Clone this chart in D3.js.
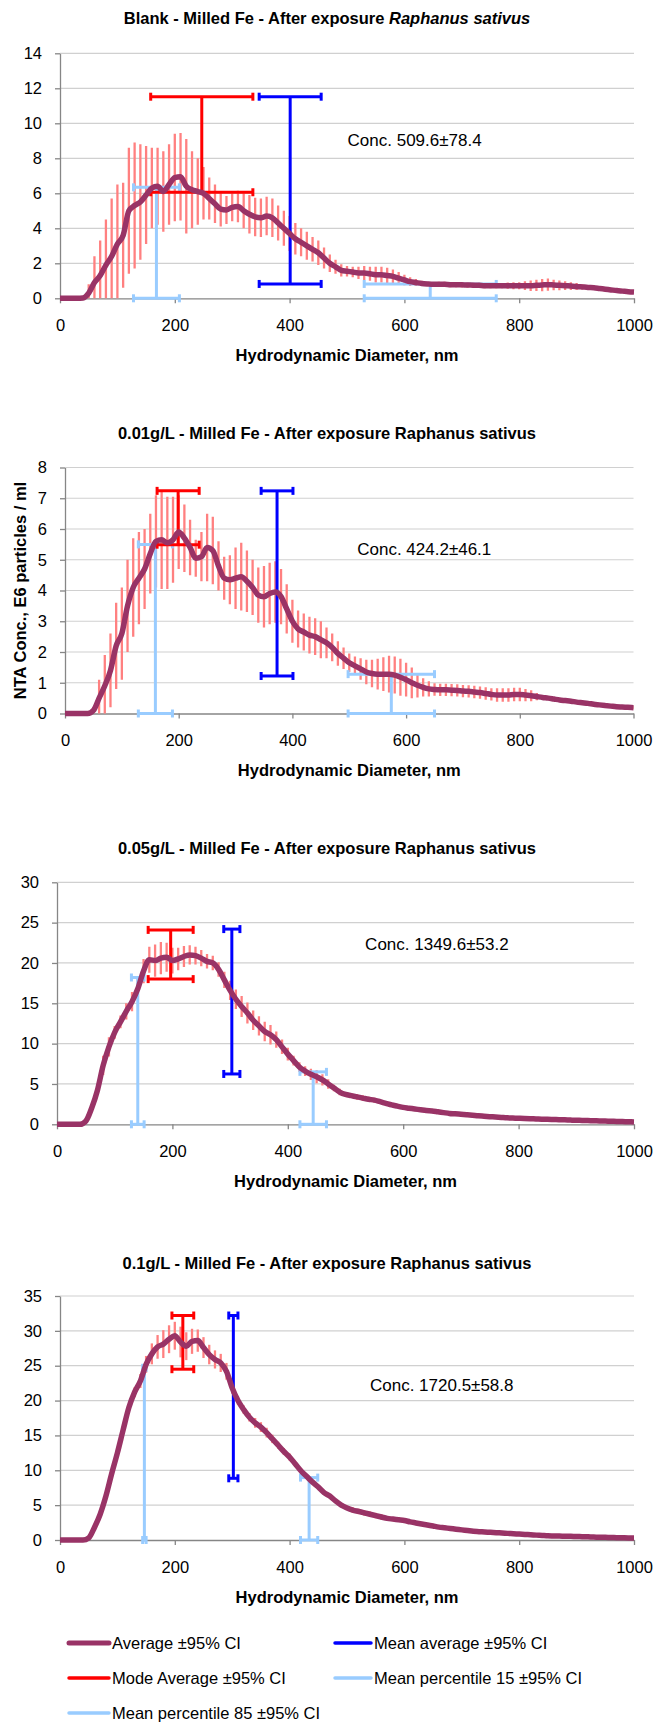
<!DOCTYPE html>
<html>
<head>
<meta charset="utf-8">
<script src="https://cdn.jsdelivr.net/npm/d3@7"></script>
<style>
  body { margin: 0; background: #fff; }
  text { font-family: "Liberation Sans", Arial, sans-serif; fill: #000; }
</style>
</head>
<body>
<svg id="chart" width="654" height="1722"></svg>
<script>
// size bins, nm (one reading every 10 nm)
const sizeNm = d3.range(0, 1001, 10);

const panelTitles = [
  "Blank - Milled Fe - After exposure ",
  "0.01g/L - Milled Fe - After exposure Raphanus sativus",
  "0.05g/L - Milled Fe - After exposure Raphanus sativus",
  "0.1g/L - Milled Fe - After exposure Raphanus sativus"
];
const xTicks = [0, 200, 400, 600, 800, 1000];
const yTicks = [
  [0, 2, 4, 6, 8, 10, 12, 14],
  [0, 1, 2, 3, 4, 5, 6, 7, 8],
  [0, 5, 10, 15, 20, 25, 30],
  [0, 5, 10, 15, 20, 25, 30, 35]
];
const concLabels = ["Conc. 509.6\u00b178.4", "Conc. 424.2\u00b146.1", "Conc. 1349.6\u00b153.2", "Conc. 1720.5\u00b158.8"];

// Average concentration (E6 particles/ml)
const avgBlank = [
  0, 0, 0, 0, 0.02, 0.3, 0.9, 1.3, 1.9, 2.4,
  3.1, 3.6, 5.0, 5.3, 5.5, 5.9, 6.3, 6.4, 6.1, 6.5,
  6.9, 6.95, 6.4, 6.2, 6.1, 6.0, 5.7, 5.4, 5.1, 5.05,
  5.2, 5.25, 5.0, 4.8, 4.65, 4.6, 4.7, 4.6, 4.3, 4.0,
  3.7, 3.4, 3.2, 3.0, 2.8, 2.6, 2.3, 2.0, 1.8, 1.6,
  1.55, 1.5, 1.45, 1.45, 1.4, 1.35, 1.35, 1.3, 1.25, 1.15,
  1.05, 0.95, 0.9, 0.85, 0.82, 0.8, 0.8, 0.8, 0.78, 0.78,
  0.77, 0.76, 0.75, 0.74, 0.72, 0.72, 0.72, 0.72, 0.72, 0.72,
  0.72, 0.72, 0.72, 0.74, 0.76, 0.78, 0.76, 0.74, 0.72, 0.7,
  0.68, 0.65, 0.62, 0.6, 0.56, 0.52, 0.48, 0.44, 0.41, 0.38,
  0.36];
const ciBlank = [
  0, 0, 0, 0, 0, 0.5, 1.5, 2.0, 2.6, 3.3,
  3.4, 3.0, 3.6, 3.6, 3.3, 2.8, 2.3, 2.2, 2.3, 2.3,
  2.5, 2.5, 2.7, 2.2, 1.9, 1.5, 1.2, 1.1, 1.0, 0.8,
  0.8, 0.9, 1.0, 1.1, 1.1, 1.1, 1.1, 1.1, 1.0, 1.0,
  1.0, 0.9, 0.8, 0.8, 0.7, 0.7, 0.6, 0.5, 0.4, 0.35,
  0.3, 0.3, 0.35, 0.4, 0.4, 0.45, 0.45, 0.45, 0.4, 0.35,
  0.3, 0.25, 0.2, 0.15, 0.12, 0.1, 0.15, 0.15, 0.15, 0.15,
  0.15, 0.15, 0.15, 0.15, 0.15, 0.15, 0.15, 0.15, 0.18, 0.2,
  0.2, 0.25, 0.3, 0.32, 0.35, 0.35, 0.3, 0.28, 0.25, 0.22,
  0.2, 0.15, 0.1, 0.1, 0.1, 0.1, 0.1, 0.1, 0.1, 0.1,
  0.1];

const avg001 = [
  0, 0, 0, 0, 0, 0.1, 0.5, 0.9, 1.4, 2.2,
  2.6, 3.5, 4.1, 4.4, 4.7, 5.2, 5.6, 5.65, 5.55, 5.65,
  5.9, 5.7, 5.4, 5.05, 5.1, 5.4, 5.3, 4.8, 4.4, 4.35,
  4.4, 4.45, 4.3, 4.1, 3.85, 3.8, 3.9, 3.95, 3.8, 3.4,
  3.0, 2.75, 2.65, 2.55, 2.5, 2.4, 2.3, 2.15, 1.95, 1.8,
  1.65, 1.55, 1.45, 1.35, 1.3, 1.28, 1.28, 1.28, 1.25, 1.18,
  1.1, 1.0, 0.92, 0.85, 0.8, 0.78, 0.77, 0.77, 0.76, 0.75,
  0.73, 0.72, 0.7, 0.68, 0.65, 0.62, 0.6, 0.6, 0.6, 0.62,
  0.62, 0.6, 0.58, 0.55, 0.52, 0.5, 0.47, 0.44, 0.42, 0.4,
  0.37, 0.35, 0.33, 0.3, 0.28, 0.26, 0.24, 0.22, 0.21, 0.2,
  0.19];
const ci001 = [
  0, 0, 0, 0, 0, 0.1, 0.6, 1.0, 1.2, 1.4,
  1.5, 1.5, 1.6, 1.5, 1.3, 1.3, 1.5, 1.6, 1.5, 1.4,
  1.2, 1.1, 0.9, 0.6, 0.8, 1.1, 1.1, 0.8, 0.7, 0.8,
  1.0, 1.1, 1.0, 0.9, 0.9, 1.0, 1.0, 1.0, 0.9, 0.8,
  0.7, 0.6, 0.6, 0.6, 0.6, 0.6, 0.5, 0.45, 0.4, 0.35,
  0.3, 0.3, 0.35, 0.4, 0.45, 0.5, 0.55, 0.6, 0.6, 0.6,
  0.55, 0.5, 0.4, 0.3, 0.25, 0.2, 0.2, 0.2, 0.2, 0.2,
  0.2, 0.2, 0.2, 0.2, 0.2, 0.2, 0.22, 0.22, 0.22, 0.22,
  0.22, 0.2, 0.18, 0.12, 0.05, 0.05, 0.05, 0.05, 0.05, 0.05,
  0.05, 0.05, 0.05, 0.05, 0.05, 0.05, 0.05, 0.05, 0.05, 0.05,
  0.05];

const avg005 = [
  0, 0, 0, 0, 0, 0.4, 2.0, 4.2, 7.3, 9.6,
  11.4, 12.7, 14.0, 15.2, 16.8, 19.0, 20.4, 20.3, 20.6, 20.7,
  20.3, 20.5, 20.8, 21.0, 20.9, 20.6, 20.2, 20.0, 19.2, 17.9,
  16.6, 15.5, 14.6, 13.8, 12.9, 12.2, 11.5, 11.1, 10.5, 9.6,
  8.7, 7.9, 7.1, 6.6, 6.2, 5.9, 5.5, 5.0, 4.5, 4.0,
  3.7, 3.55, 3.4, 3.25, 3.1, 3.0, 2.8, 2.6, 2.4, 2.25,
  2.1, 2.0, 1.9, 1.8, 1.7, 1.65, 1.55, 1.45, 1.35, 1.3,
  1.24, 1.18, 1.12, 1.05, 1.0, 0.95, 0.9, 0.85, 0.8, 0.77,
  0.74, 0.72, 0.7, 0.67, 0.64, 0.62, 0.6, 0.57, 0.55, 0.52,
  0.5, 0.48, 0.46, 0.44, 0.42, 0.4, 0.38, 0.36, 0.34, 0.32,
  0.3];
const ci005 = [
  0, 0, 0, 0, 0, 0.2, 0.5, 0.5, 1.2, 1.2,
  0.8, 0.8, 1.0, 1.2, 1.2, 1.5, 1.6, 2.0, 2.0, 1.8,
  1.6, 1.4, 1.3, 1.2, 1.1, 1.0, 0.9, 0.9, 0.9, 1.0,
  1.2, 1.2, 1.3, 1.3, 1.2, 1.2, 1.2, 1.2, 1.0, 0.9,
  0.8, 0.6, 0.6, 0.6, 0.7, 0.8, 0.7, 0.6, 0.4, 0.4,
  0.3, 0.3, 0.35, 0.35, 0.3, 0.3, 0.2, 0.2, 0.2, 0.2,
  0.2, 0.1, 0.1, 0.1, 0.1, 0.1, 0.1, 0.1, 0.1, 0.1,
  0.1, 0.1, 0.1, 0.1, 0.1, 0.1, 0.1, 0.1, 0.1, 0.1,
  0.1, 0.1, 0.1, 0.1, 0.1, 0.1, 0.1, 0.1, 0.1, 0.1,
  0.1, 0.1, 0.1, 0.1, 0.1, 0.1, 0.1, 0.1, 0.1, 0.1,
  0.1];

const avg01 = [
  0, 0, 0, 0, 0, 0.3, 1.8, 3.7, 6.3, 9.5,
  12.5, 15.8, 19.0, 21.2, 22.8, 25.2, 26.7, 27.7, 28.1, 28.8,
  29.3, 28.4, 27.8, 28.5, 28.6, 27.6, 26.6, 25.9, 25.4, 24.2,
  21.8, 20.0, 18.7, 17.6, 16.8, 16.2, 15.4, 14.5, 13.6, 12.7,
  11.9, 10.9, 9.9, 9.1, 8.3, 7.6, 6.8, 6.3, 5.6, 5.0,
  4.6, 4.3, 4.1, 3.9, 3.7, 3.5, 3.3, 3.1, 3.0, 2.9,
  2.8, 2.6, 2.45, 2.3, 2.15, 2.0, 1.85, 1.75, 1.65, 1.55,
  1.45, 1.35, 1.25, 1.2, 1.15, 1.1, 1.05, 1.0, 0.95, 0.9,
  0.85, 0.8, 0.75, 0.7, 0.65, 0.6, 0.58, 0.56, 0.55, 0.53,
  0.5, 0.48, 0.45, 0.42, 0.4, 0.38, 0.36, 0.34, 0.32, 0.3,
  0.3];
const ci01 = [
  0, 0, 0, 0, 0, 0.2, 0.3, 0.3, 0.3, 0.3,
  0.3, 0.3, 0.5, 0.7, 1.0, 1.2, 1.5, 1.7, 2.0, 2.0,
  2.0, 2.2, 2.0, 1.8, 1.6, 1.5, 1.4, 1.3, 1.3, 1.2,
  0.8, 0.6, 0.6, 0.6, 0.7, 0.7, 0.7, 0.6, 0.5, 0.5,
  0.5, 0.4, 0.4, 0.3, 0.3, 0.3, 0.3, 0.3, 0.3, 0.3,
  0.3, 0.4, 0.4, 0.4, 0.4, 0.4, 0.4, 0.3, 0.3, 0.3,
  0.3, 0.15, 0.15, 0.15, 0.15, 0.15, 0.15, 0.15, 0.15, 0.15,
  0.15, 0.15, 0.15, 0.15, 0.15, 0.15, 0.15, 0.15, 0.15, 0.15,
  0.15, 0.15, 0.15, 0.15, 0.15, 0.15, 0.15, 0.15, 0.15, 0.15,
  0.15, 0.15, 0.15, 0.15, 0.15, 0.15, 0.15, 0.15, 0.15, 0.15,
  0.15];

const avgSeries = [avgBlank, avg001, avg005, avg01];
const ciSeries = [ciBlank, ci001, ci005, ci01];

// Mode average: size, size CI, low / high concentration
const modeSize = [247, 199, 197, 214];
const modeCI = [89, 37, 39, 19];
const modeLow = [6.06, 5.49, 18.0, 24.5];
const modeHigh = [11.52, 7.24, 24.1, 32.2];
// Mean average
const meanSize = [401, 373, 303, 302];
const meanCI = [54, 28, 14, 8];
const meanLow = [0.82, 1.22, 6.24, 8.85];
const meanHigh = [11.52, 7.24, 24.2, 32.2];
// Mean percentile 15 / 85
const p15Size = [168, 159, 140, 147];
const p15CI = [40, 30, 11, 3];
const p15Conc = [6.34, 5.5, 18.2, 24.7];
const p85Size = [645, 574, 444, 434];
const p85CI = [115, 76, 23, 15];
const p85Conc = [0.82, 1.28, 6.5, 8.95];

const legendLabels = ["Average \u00b195% CI", "Mean average \u00b195% CI", "Mode Average \u00b195% CI",
  "Mean percentile 15 \u00b195% CI", "Mean percentile 85 \u00b195% CI"];

// ---- layout (pixels) ----
const layout = [
  { left: 60, right: 634, top: 53.3, bottom: 298.3, titleY: 18 },
  { left: 65, right: 633.5, top: 467.5, bottom: 713.5, titleY: 433 },
  { left: 57, right: 634, top: 882.3, bottom: 1124.3, titleY: 848 },
  { left: 60, right: 634, top: 1296, bottom: 1540, titleY: 1263 }
];
// where the concentration note sits, in data units
const concAt = [[501, 9.05], [514, 5.34], [534, 22.4], [540, 22.3]];

const colAvg = '#993366', colCI = '#ff8080', colMode = '#ff0000', colMean = '#0000ff', colPct = '#99ccff';
const boldSize = '16.5px', textSize = '16.5px';

const svg = d3.select('#chart');

// horizontal error bar with end caps
var hBar = function (g, x, y, xc, ci, yv, color) {
  g.append('line')
    .attr('x1', x(xc - ci)).attr('x2', x(xc + ci))
    .attr('y1', y(yv)).attr('y2', y(yv))
    .attr('stroke', color).attr('stroke-width', 3);
  [xc - ci, xc + ci].forEach(function (v) {
    g.append('line')
      .attr('x1', x(v)).attr('x2', x(v))
      .attr('y1', y(yv) - 4).attr('y2', y(yv) + 4)
      .attr('stroke', color).attr('stroke-width', 3);
  });
};

var vLine = function (g, x, y, xc, lo, hi, color, w) {
  g.append('line')
    .attr('x1', x(xc)).attr('x2', x(xc))
    .attr('y1', y(lo)).attr('y2', y(hi))
    .attr('stroke', color).attr('stroke-width', w);
};

var drawPanel = function (i) {
  var L = layout[i];
  var yMax = yTicks[i][yTicks[i].length - 1];
  var x = d3.scaleLinear().domain([0, 1000]).range([L.left, L.right]);
  var y = d3.scaleLinear().domain([0, yMax]).range([L.bottom, L.top]);
  var g = svg.append('g').attr('class', 'panel' + i);

  svg.append('clipPath').attr('id', 'clip' + i)
    .append('rect')
    .attr('x', L.left).attr('y', L.top)
    .attr('width', L.right - L.left).attr('height', L.bottom - L.top);

  // gridlines
  g.append('g').selectAll('line')
    .data(yTicks[i].slice(1))
    .enter().append('line')
    .attr('x1', L.left).attr('x2', L.right)
    .attr('y1', function (d) { return y(d); }).attr('y2', function (d) { return y(d); })
    .attr('stroke', '#d0d0d0').attr('stroke-width', 1.2);

  // axes
  var yAxis = g.append('g')
    .attr('transform', 'translate(' + L.left + ',0)')
    .call(d3.axisLeft(y).tickValues(yTicks[i]).tickSize(5).tickPadding(13).tickSizeOuter(0));
  var xAxis = g.append('g')
    .attr('transform', 'translate(0,' + L.bottom + ')')
    .call(d3.axisBottom(x).tickValues(xTicks).tickFormat(d3.format('d'))
      .tickSize(5).tickPadding(16).tickSizeOuter(0));
  [yAxis, xAxis].forEach(function (a) {
    a.select('.domain').attr('stroke', '#868686').attr('stroke-width', 1.3);
    a.selectAll('.tick line').attr('stroke', '#868686').attr('stroke-width', 1.3);
    a.selectAll('.tick text').style('font-size', textSize)
      .style('font-family', '"Liberation Sans", Arial, sans-serif').attr('fill', '#000');
  });

  // 95% CI bars of the average curve
  var avg = avgSeries[i], ci = ciSeries[i];
  g.append('g').attr('clip-path', 'url(#clip' + i + ')')
    .selectAll('line')
    .data(sizeNm.filter(function (d, k) { return ci[k] > 0; }))
    .enter().append('line')
    .attr('x1', function (d) { return x(d); }).attr('x2', function (d) { return x(d); })
    .attr('y1', function (d) { var k = d / 10; return y(avg[k] - ci[k]); })
    .attr('y2', function (d) { var k = d / 10; return y(avg[k] + ci[k]); })
    .attr('stroke', colCI).attr('stroke-width', 2.3);

  // summary statistics
  var m = g.append('g');
  hBar(m, x, y, p15Size[i], p15CI[i], 0, colPct);
  hBar(m, x, y, p15Size[i], p15CI[i], p15Conc[i], colPct);
  vLine(m, x, y, p15Size[i], 0, p15Conc[i], colPct, 3);
  hBar(m, x, y, p85Size[i], p85CI[i], 0, colPct);
  hBar(m, x, y, p85Size[i], p85CI[i], p85Conc[i], colPct);
  vLine(m, x, y, p85Size[i], 0, p85Conc[i], colPct, 3);
  hBar(m, x, y, modeSize[i], modeCI[i], modeLow[i], colMode);
  hBar(m, x, y, modeSize[i], modeCI[i], modeHigh[i], colMode);
  vLine(m, x, y, modeSize[i], modeLow[i], modeHigh[i], colMode, 3);
  hBar(m, x, y, meanSize[i], meanCI[i], meanLow[i], colMean);
  hBar(m, x, y, meanSize[i], meanCI[i], meanHigh[i], colMean);
  vLine(m, x, y, meanSize[i], meanLow[i], meanHigh[i], colMean, 3);

  // average curve
  g.append('path')
    .datum(sizeNm)
    .attr('d', d3.line()
      .x(function (d) { return x(d); })
      .y(function (d) { return y(avg[d / 10]); })
      .curve(d3.curveMonotoneX))
    .attr('fill', 'none').attr('stroke', colAvg)
    .attr('stroke-width', 5.5).attr('stroke-linejoin', 'round');

  // concentration note
  g.append('text')
    .attr('x', x(concAt[i][0])).attr('y', y(concAt[i][1]))
    .attr('dy', '0.36em')
    .style('font-size', '17px')
    .text(concLabels[i]);

  // title
  var t = g.append('text')
    .attr('x', 327).attr('y', L.titleY).attr('dy', '0.36em')
    .attr('text-anchor', 'middle')
    .style('font-size', boldSize).style('font-weight', 'bold')
    .text(panelTitles[i]);
  if (i === 0) {
    t.append('tspan').style('font-style', 'italic').text('Raphanus sativus');
  }

  // x axis title
  g.append('text')
    .attr('x', (L.left + L.right) / 2).attr('y', L.bottom + 57).attr('dy', '0.36em')
    .attr('text-anchor', 'middle')
    .style('font-size', boldSize).style('font-weight', 'bold')
    .text('Hydrodynamic Diameter, nm');

  if (i === 1) {
    g.append('text')
      .attr('transform', 'translate(20,' + ((L.top + L.bottom) / 2) + ') rotate(-90)')
      .attr('dy', '0.36em')
      .attr('text-anchor', 'middle')
      .style('font-size', boldSize).style('font-weight', 'bold')
      .text('NTA Conc., E6 particles / ml');
  }
};

for (var i = 0; i < 4; i++) drawPanel(i);

// legend
var legendPos = [[69, 1643], [335, 1643], [69, 1678], [335, 1678], [69, 1713]];
var legendCols = [colAvg, colMean, colMode, colPct, colPct];
var legend = svg.append('g').attr('class', 'legend');
legendLabels.forEach(function (lab, k) {
  var p = legendPos[k];
  var len = k % 2 === 0 ? 40 : 36;
  legend.append('line')
    .attr('x1', p[0]).attr('x2', p[0] + len)
    .attr('y1', p[1]).attr('y2', p[1])
    .attr('stroke', legendCols[k]).attr('stroke-width', k === 0 ? 5 : 3.5)
    .attr('stroke-linecap', 'round');
  legend.append('text')
    .attr('x', p[0] + len + 3).attr('y', p[1]).attr('dy', '0.36em')
    .style('font-size', textSize)
    .text(lab);
});
</script>
</body>
</html>
